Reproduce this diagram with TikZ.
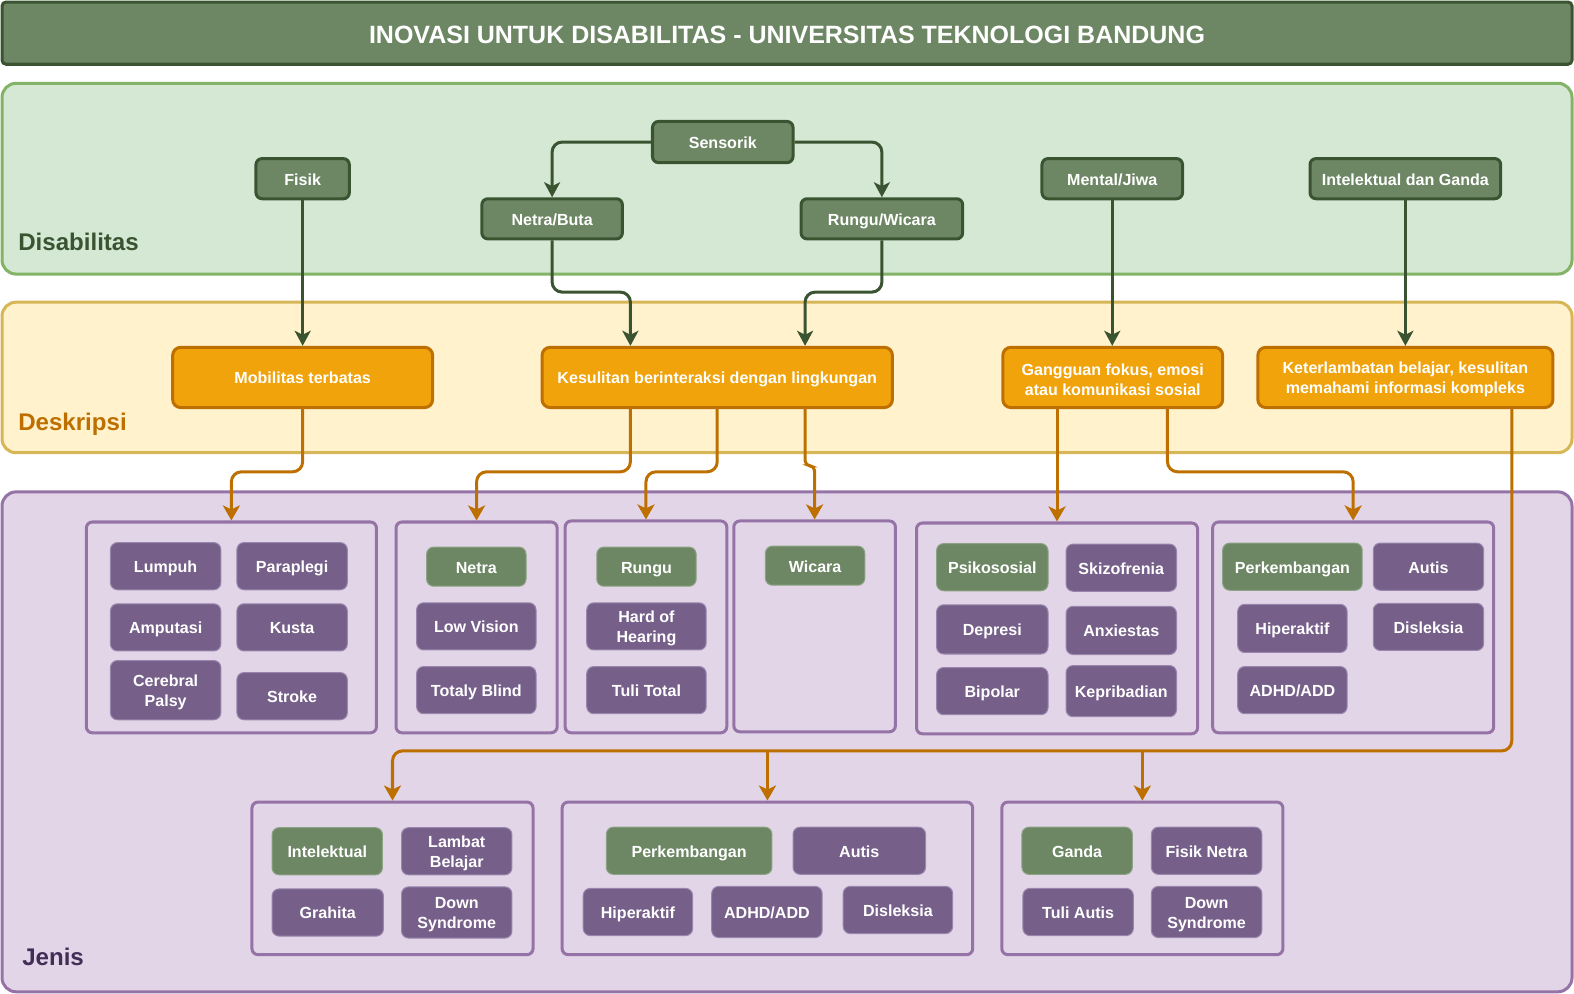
\documentclass[tikz,border=0pt]{standalone}
\usepackage{fontspec}
\setmainfont{Liberation Sans}
\usetikzlibrary{arrows.meta}

\definecolor{hdrFill}{HTML}{6D8764}
\definecolor{hdrLine}{HTML}{3A5431}
\definecolor{grnBand}{HTML}{D5E8D4}
\definecolor{grnLine}{HTML}{82B366}
\definecolor{ylwBand}{HTML}{FFF2CC}
\definecolor{ylwLine}{HTML}{D6B656}
\definecolor{purBand}{HTML}{E1D5E7}
\definecolor{purLine}{HTML}{9673A6}
\definecolor{orgFill}{HTML}{F0A30A}
\definecolor{orgLine}{HTML}{BD7000}
\definecolor{itmFill}{HTML}{76608A}
\definecolor{itmLine}{HTML}{9A86AC}
\definecolor{gitmLine}{HTML}{8CA383}
\definecolor{jenisTxt}{HTML}{432D57}

% taller first line so two-line labels sit a little lower
\newcommand\firstline{\rule{0pt}{15.5pt}}

\begin{document}
\begin{tikzpicture}[x=1pt,y=-1pt,
  every node/.style={font=\bfseries\fontsize{16pt}{20pt}\selectfont, text=white, inner sep=0pt},
  band/.style={line width=3pt, rounded corners=14pt},
  one/.style={text height=12.8pt, text depth=0pt},
  dis/.style={draw=hdrLine, fill=hdrFill, line width=3pt, rounded corners=6pt, minimum height=40pt, one},
  desc/.style={draw=orgLine, fill=orgFill, line width=3pt, rounded corners=8pt, minimum height=60pt, align=center},
  grp/.style={draw=purLine, fill=purBand, line width=3pt, rounded corners=6pt},
  item/.style={draw=itmLine, fill=itmFill, line width=1pt, rounded corners=7pt, align=center},
  gitem/.style={item, draw=gitmLine, fill=hdrFill},
  glink/.style={draw=hdrLine, line width=3pt, rounded corners=10pt, -{Stealth[length=15pt,width=16pt,inset=4pt]}},
  olink/.style={draw=orgLine, line width=3pt, rounded corners=10pt, -{Stealth[length=15pt,width=17pt,inset=4pt]}},
  tag/.style={anchor=base west, font=\bfseries\fontsize{24pt}{28pt}\selectfont}
]
\useasboundingbox (0,0) rectangle (1568,990);

% header
\node[draw=hdrLine, fill=hdrFill, line width=3pt, rounded corners=4pt,
      minimum width=1564pt, minimum height=62pt, text height=19.8pt, text depth=0pt,
      font=\bfseries\fontsize{24.9pt}{28pt}\selectfont] (title) at (784,33)
      {INOVASI UNTUK DISABILITAS - UNIVERSITAS TEKNOLOGI BANDUNG};

% three horizontal bands
\draw[band, draw=grnLine, fill=grnBand] (2,83) rectangle (1566,273);
\draw[band, draw=ylwLine, fill=ylwBand] (2,301) rectangle (1566,451);
\draw[band, draw=purLine, fill=purBand] (2,490) rectangle (1566,988);

\node[tag, text=hdrLine] (lblDis) at (18,249.5) {Disabilitas};
\node[tag, text=orgLine] (lblDes) at (18,429) {Deskripsi};
\node[tag, text=jenisTxt] (lblJen) at (22,962) {Jenis};

% disability categories
\node[dis, minimum width=93pt] (fisik) at (301.5,178) {Fisik};
\node[dis, minimum width=140pt, minimum height=41pt] (sens) at (720,141.5) {Sensorik};
\node[dis, minimum width=140pt] (netb) at (550,218) {Netra/Buta};
\node[dis, minimum width=161pt] (rngw) at (878.5,218) {Rungu/Wicara};
\node[dis, minimum width=140pt] (ment) at (1108,178) {Mental/Jiwa};
\node[dis, minimum width=190pt] (intg) at (1400,178) {Intelektual dan Ganda};

% descriptions
\node[desc, one, minimum width=259pt] (mob) at (301.5,376) {Mobilitas terbatas};
\node[desc, one, minimum width=349pt] (kes) at (714.5,376) {Kesulitan berinteraksi dengan lingkungan};
\node[desc, minimum width=219pt] (gang) at (1108.5,376) {\firstline Gangguan fokus, emosi\\atau komunikasi sosial};
\node[desc, minimum width=294pt] (ket) at (1400,376) {\firstline Keterlambatan belajar, kesulitan\\memahami informasi kompleks};

% group frames
\node[grp, minimum width=289pt, minimum height=210pt] (g1) at (230.5,625) {};
\node[grp, minimum width=160.5pt, minimum height=210pt] (g2) at (474.75,625) {};
\node[grp, minimum width=161pt, minimum height=211pt] (g3) at (643.5,624.5) {};
\node[grp, minimum width=161pt, minimum height=210pt] (g4) at (811.5,624) {};
\node[grp, minimum width=280pt, minimum height=210pt] (g5) at (1053,626) {};
\node[grp, minimum width=280pt, minimum height=210pt] (g6) at (1348,625) {};
\node[grp, minimum width=280pt, minimum height=152pt] (g7) at (391,875) {};
\node[grp, minimum width=409pt, minimum height=152pt] (g8) at (764.5,875) {};
\node[grp, minimum width=280pt, minimum height=152pt] (g9) at (1138,875) {};

% group 1
\node[item, one, minimum width=110pt, minimum height=47pt] (lumpuh) at (165,564) {Lumpuh};
\node[item, one, minimum width=110pt, minimum height=47pt] (parap) at (291,564) {Paraplegi};
\node[item, one, minimum width=110pt, minimum height=47pt] (amput) at (165,625) {Amputasi};
\node[item, one, minimum width=110pt, minimum height=47pt] (kusta) at (291,625) {Kusta};
\node[item, minimum width=110pt, minimum height=59pt] (cereb) at (165,687.5) {\firstline Cerebral\\Palsy};
\node[item, one, minimum width=110pt, minimum height=47pt] (stroke) at (291,693.5) {Stroke};

% group 2
\node[gitem, one, minimum width=99pt, minimum height=39pt] (netra) at (474.5,564.5) {Netra};
\node[item, one, minimum width=119pt, minimum height=47pt] (lowv) at (474.5,624) {Low Vision};
\node[item, one, minimum width=119pt, minimum height=47pt] (tblind) at (474.5,687.5) {Totaly Blind};

% group 3
\node[gitem, one, minimum width=99pt, minimum height=39pt] (rungu) at (644,564.5) {Rungu};
\node[item, minimum width=119pt, minimum height=47pt] (hoh) at (644,624) {\firstline Hard of\\Hearing};
\node[item, one, minimum width=119pt, minimum height=47pt] (tuli) at (644,687.5) {Tuli Total};

% group 4
\node[gitem, one, minimum width=99pt, minimum height=39pt] (wicara) at (812,563.5) {Wicara};

% group 5
\node[gitem, one, minimum width=111pt, minimum height=47pt] (psiko) at (988.5,565) {Psikososial};
\node[item, one, minimum width=111pt, minimum height=49pt] (depr) at (988.5,627) {Depresi};
\node[item, one, minimum width=111pt, minimum height=47pt] (bipo) at (988.5,688.5) {Bipolar};
\node[item, one, minimum width=110pt, minimum height=47pt] (skiz) at (1117,565.5) {Skizofrenia};
\node[item, one, minimum width=110pt, minimum height=48pt] (anx) at (1117,628) {Anxiestas};
\node[item, one, minimum width=110pt, minimum height=51pt] (kepr) at (1117,688.5) {Kepribadian};

% group 6
\node[gitem, one, minimum width=139pt, minimum height=47pt] (perk) at (1287.5,564.5) {Perkembangan};
\node[item, one, minimum width=110pt, minimum height=47pt] (autis) at (1423,564.5) {Autis};
\node[item, one, minimum width=109pt, minimum height=48pt] (hiper) at (1287.5,626) {Hiperaktif};
\node[item, one, minimum width=110pt, minimum height=47pt] (disl) at (1423,624.5) {Disleksia};
\node[item, one, minimum width=109pt, minimum height=47pt] (adhd) at (1287.5,687.5) {ADHD/ADD};

% group 7
\node[gitem, one, minimum width=110pt, minimum height=47pt] (intel) at (326,848) {Intelektual};
\node[item, minimum width=110pt, minimum height=47pt] (lambat) at (455,848) {\firstline Lambat\\Belajar};
\node[item, one, minimum width=111pt, minimum height=47pt] (grah) at (326.5,909) {Grahita};
\node[item, minimum width=110pt, minimum height=51pt] (downA) at (455,909) {\firstline Down\\Syndrome};

% group 8
\node[gitem, one, minimum width=165pt, minimum height=47pt] (perkB) at (686.5,847.5) {Perkembangan};
\node[item, one, minimum width=132pt, minimum height=47pt] (autisB) at (856,847.5) {Autis};
\node[item, one, minimum width=109pt, minimum height=47pt] (hiperB) at (635.5,908.5) {Hiperaktif};
\node[item, one, minimum width=110pt, minimum height=51pt] (adhdB) at (764,908.5) {ADHD/ADD};
\node[item, one, minimum width=109pt, minimum height=47pt] (dislB) at (894.5,906.5) {Disleksia};

% group 9
\node[gitem, one, minimum width=110pt, minimum height=47pt] (ganda) at (1073,847.5) {Ganda};
\node[item, one, minimum width=110pt, minimum height=47pt] (fnetra) at (1202,847.5) {Fisik Netra};
\node[item, one, minimum width=110pt, minimum height=47pt] (tautis) at (1074,908.5) {Tuli Autis};
\node[item, minimum width=110pt, minimum height=51pt] (downB) at (1202,908.5) {\firstline Down\\Syndrome};

% routing helpers
\coordinate (gmid) at (0,291);
\coordinate (omid) at (0,470);
\coordinate (jog) at (0,464);
\coordinate (bus) at (0,748);
\coordinate (kesA) at ([xshift=-86.5pt]kes.north);
\coordinate (kesB) at ([xshift=87.5pt]kes.north);
\coordinate (gangB) at ([xshift=54.5pt]gang.south);
\coordinate (ketA) at ([xshift=106pt]ket.south);

% green links
\draw[glink] (fisik.south) -- (mob.north);
\draw[glink] (sens.west) -| (netb.north);
\draw[glink] (sens.east) -| (rngw.north);
\draw[glink] (netb.south) -- (netb.south |- gmid) -| (kesA);
\draw[glink] (rngw.south) -- (rngw.south |- gmid) -| (kesB);
\draw[glink] (ment.south) -- (ment.south |- gang.north);
\draw[glink] (intg.south) -- (ket.north);

% orange links
\draw[olink] (mob.south) -- (mob.south |- omid) -| (g1.north);
\draw[olink] (kesA |- kes.south) -- (kesA |- omid) -| (g2.north);
\draw[olink] (kes.south) -- (kes.south |- omid) -| (g3.north);
\draw[olink, rounded corners=5pt] (kesB |- kes.south) -- (kesB |- jog) -| (g4.north);
\draw[olink] (g5.north |- gang.south) -- (g5.north);
\draw[olink] (gangB) -- (gangB |- omid) -| (g6.north);
\draw[olink] (ketA) -- (ketA |- bus) -| (g7.north);
\draw[olink] (g8.north |- bus) -- (g8.north);
\draw[olink] (g9.north |- bus) -- (g9.north);
\end{tikzpicture}
\end{document}
